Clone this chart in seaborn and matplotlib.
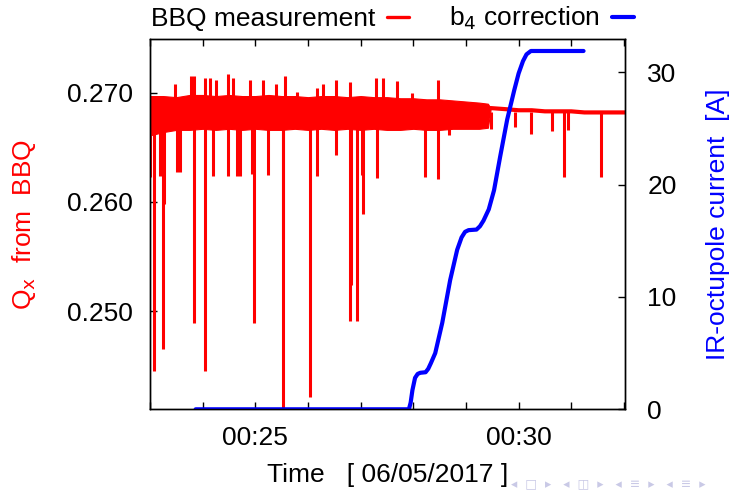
import numpy as np
import pandas as pd
import matplotlib
matplotlib.use("Agg")
import matplotlib.pyplot as plt
from matplotlib.lines import Line2D
import seaborn as sns

# -----------------------------
# Data
# -----------------------------
# dense BBQ band (upper / lower envelope) before the tune settles
band_time = ["00:23:00", "00:23:15", "00:23:30", "00:23:45", "00:24:00", "00:24:15",
             "00:24:30", "00:24:45", "00:25:00", "00:25:15", "00:25:30", "00:25:45",
             "00:26:00", "00:26:15", "00:26:30", "00:26:45", "00:27:00", "00:27:15",
             "00:27:30", "00:27:45", "00:28:00", "00:28:15", "00:28:30", "00:28:45",
             "00:29:00", "00:29:15", "00:29:25", "00:29:28"]
band_hi = [0.2697, 0.2697, 0.2696, 0.2698, 0.2698, 0.2697, 0.2698, 0.2697, 0.2697,
           0.2698, 0.2697, 0.2697, 0.2696, 0.2697, 0.2697, 0.2696, 0.2697, 0.2696,
           0.2696, 0.2695, 0.2695, 0.2694, 0.2694, 0.2693, 0.2692, 0.2691, 0.2690, 0.2686]
band_lo = [0.2661, 0.2664, 0.2666, 0.2666, 0.2667, 0.2666, 0.2667, 0.2666, 0.2667,
           0.2666, 0.2666, 0.2667, 0.2666, 0.2667, 0.2666, 0.2667, 0.2666, 0.2667,
           0.2666, 0.2666, 0.2667, 0.2666, 0.2666, 0.2667, 0.2667, 0.2667, 0.2668, 0.2684]

# quiet BBQ trace after the correction
tail_time = ["00:29:28", "00:29:45", "00:30:00", "00:30:15", "00:30:30", "00:30:45",
             "00:31:00", "00:31:15", "00:31:30", "00:31:45", "00:32:01"]
tail_qx = [0.2686, 0.2685, 0.2684, 0.2684, 0.2683, 0.2683, 0.2683, 0.2682, 0.2682,
           0.2682, 0.2682]

# downward spikes in the BBQ signal
dip_time = ["00:23:00", "00:23:04", "00:23:11", "00:23:15", "00:23:16", "00:23:31",
            "00:23:34", "00:23:50", "00:24:03", "00:24:12", "00:24:29", "00:24:39",
            "00:24:42", "00:24:56", "00:24:59", "00:25:14", "00:25:31", "00:25:32",
            "00:26:02", "00:26:10", "00:26:32", "00:26:48", "00:26:49", "00:26:56",
            "00:27:01", "00:27:03", "00:27:19", "00:28:13", "00:28:28", "00:28:41",
            "00:29:28", "00:29:56", "00:30:14", "00:30:38", "00:30:52", "00:30:56",
            "00:31:34"]
dip_qx = [0.2623, 0.2445, 0.2624, 0.2465, 0.2598, 0.2627, 0.2627, 0.2489, 0.2445,
          0.2624, 0.2624, 0.2624, 0.2624, 0.2626, 0.2489, 0.2625, 0.2400, 0.2566,
          0.2421, 0.2624, 0.2643, 0.2491, 0.2524, 0.2491, 0.2625, 0.2589, 0.2622,
          0.2623, 0.2621, 0.2661, 0.2667, 0.2669, 0.2662, 0.2665, 0.2623, 0.2666,
          0.2623]

# upward spikes in the BBQ signal
peak_time = ["00:23:29", "00:23:47", "00:23:50", "00:24:03", "00:24:08", "00:24:15",
             "00:24:29", "00:24:35", "00:24:54", "00:25:09", "00:25:23", "00:25:34",
             "00:25:47", "00:26:10", "00:26:17", "00:26:32", "00:26:48", "00:27:17",
             "00:27:25", "00:27:41", "00:27:58", "00:28:28"]
peak_qx = [0.2708, 0.2715, 0.2715, 0.2714, 0.2714, 0.2712, 0.2717, 0.2714, 0.2712,
           0.2712, 0.2708, 0.2715, 0.2701, 0.2704, 0.2708, 0.2712, 0.2710, 0.2714,
           0.2714, 0.2711, 0.2700, 0.2712]

# IR-octupole (b4) current
b4_time = ["00:23:52", "00:27:55", "00:27:57", "00:27:59", "00:28:02", "00:28:05",
           "00:28:08", "00:28:14", "00:28:17", "00:28:20", "00:28:25", "00:28:33",
           "00:28:42", "00:28:50", "00:28:55", "00:28:59", "00:29:03", "00:29:12",
           "00:29:16", "00:29:20", "00:29:26", "00:29:32", "00:29:39", "00:29:47",
           "00:29:55", "00:30:00", "00:30:05", "00:30:09", "00:30:14", "00:31:14"]
b4_current = [0.0, 0.0, 0.6, 1.7, 2.8, 3.15, 3.25, 3.3, 3.6, 4.1, 5.0, 7.7,
              11.5, 14.2, 15.3, 15.8, 15.95, 16.0, 16.3, 16.8, 17.8, 19.5, 22.5, 25.8,
              28.4, 29.9, 31.0, 31.6, 31.9, 31.9]

tick_minutes = [23, 24, 25, 26, 27, 28, 29, 30, 31, 32]
tick_labels = ["", "", "00:25", "", "", "", "", "00:30", "", ""]


def to_min(t):
    return pd.to_timedelta(pd.Series(t)).dt.total_seconds().to_numpy() / 60.0


band_df = pd.DataFrame({"t": to_min(band_time), "hi": band_hi, "lo": band_lo})
tail_df = pd.DataFrame({"t": to_min(tail_time), "qx": tail_qx})
b4_df = pd.DataFrame({"t": to_min(b4_time), "I": b4_current})

# -----------------------------
# Style
# -----------------------------
sns.set_style("ticks")
plt.rcParams["font.family"] = ["Liberation Sans", "DejaVu Sans"]
plt.rcParams["font.size"] = 19
for key in ("text.color", "axes.labelcolor", "xtick.color", "ytick.color"):
    plt.rcParams[key] = "black"

fig = plt.figure(figsize=(7.35, 4.92), dpi=100)
ax = fig.add_axes([0.2041, 0.1681, 0.6462, 0.7520])

red = "#ff0000"
blue = "#0000ff"

# BBQ measurement
ax.fill_between(band_df["t"], band_df["lo"], band_df["hi"], color=red, lw=0.8)
ax.vlines(to_min(dip_time), 0.2682, dip_qx, color=red, lw=2.2)
ax.vlines(to_min(peak_time), 0.2682, peak_qx, color=red, lw=2.2)
sns.lineplot(data=tail_df, x="t", y="qx", ax=ax, color=red, lw=3,
             estimator=None, sort=False)

ax.set_xlim(23.0, 32.02)
ax.set_ylim(0.2410, 0.2749)
ax.set_yticks([0.250, 0.260, 0.270])
ax.set_yticklabels(["0.250", "0.260", "0.270"])
ax.set_xticks(tick_minutes)
ax.set_xticklabels(tick_labels)
ax.tick_params(axis="x", direction="in", length=5, width=1, pad=12, top=True)
ax.tick_params(axis="y", direction="in", length=5, width=1, pad=12)

ax.set_xlabel("Time   [ 06/05/2017 ]")
ax.xaxis.set_label_coords(0.5, -0.145)
ax.set_ylabel(r"Q$_\mathrm{x}$  from  BBQ", color=red)
ax.yaxis.set_label_coords(-0.235, 0.5)

# b4 correction on the right axis
ax2 = ax.twinx()
sns.lineplot(data=b4_df, x="t", y="I", ax=ax2, color=blue, lw=3.0,
             estimator=None, sort=False)
ax2.set_ylim(0, 32.94)
ax2.set_yticks([0, 10, 20, 30])
ax2.tick_params(axis="y", direction="in", length=5, width=1, pad=16)
ax2.set_ylabel("IR-octupole current  [A]", color=blue)
ax2.yaxis.set_label_coords(1.17, 0.5)
ax2.set_xlabel("")

for a in (ax, ax2):
    for s in a.spines.values():
        s.set_linewidth(1.0)
        s.set_color("black")

# legend above the frame, gnuplot style (text then sample)
handles = [Line2D([], [], color=red, lw=2.4), Line2D([], [], color=blue, lw=3.0)]
labels = ["BBQ measurement", r"b$_4$ correction"]
fig.legend(handles, labels, ncol=2, markerfirst=False, frameon=False,
           loc="center left", bbox_to_anchor=(0.205, 0.962),
           handlelength=0.85, handletextpad=0.45, columnspacing=1.5,
           borderaxespad=0, borderpad=0)

# faint beamer navigation symbols at the bottom edge
fig.text(0.695, 0.003, "◂  □  ▸   ◂  ◫  ▸   ◂  ≡  ▸   ◂  ≡  ▸", color="#c9c9e6",
         fontsize=9, va="bottom", ha="left", family=["DejaVu Sans"])

fig.savefig("out.png", dpi=100)
